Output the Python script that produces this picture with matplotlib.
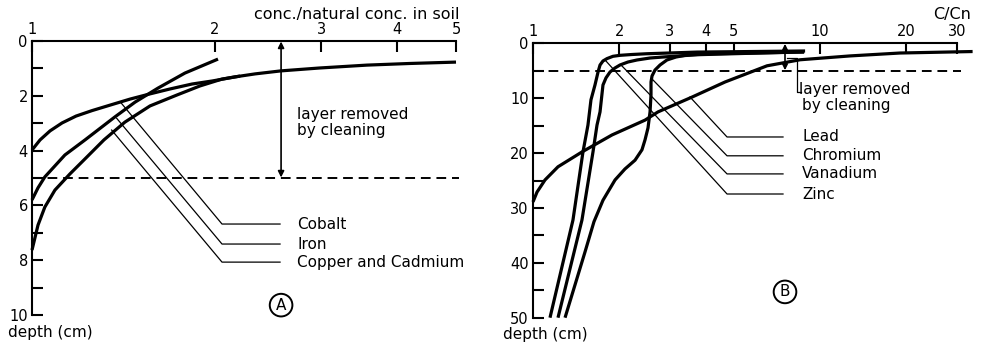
import matplotlib
matplotlib.use('Agg')
import matplotlib.pyplot as plt
from matplotlib import ticker

# A: concentration / natural concentration in soil against depth (cm)
cobalt_x = [1.0, 1.031, 1.071, 1.121, 1.182, 1.256, 1.345, 1.451, 1.565, 1.689, 1.836,
            1.981, 2.161, 2.333, 2.574, 2.98, 3.566, 4.20, 5.0]
cobalt_y = [3.98, 3.61, 3.28, 2.99, 2.74, 2.54, 2.34, 2.12, 1.93, 1.75, 1.57,
            1.46, 1.31, 1.20, 1.09, 0.985, 0.88, 0.82, 0.77]
iron_x = [1.0, 1.023, 1.05, 1.133, 1.223, 1.37, 1.479, 1.613, 1.787, 2.026]
iron_y = [5.80, 5.36, 4.96, 4.16, 3.61, 2.77, 2.23, 1.72, 1.17, 0.66]
copper_x = [1.0, 1.023, 1.05, 1.091, 1.155, 1.227, 1.314, 1.423, 1.565, 1.734, 1.892, 2.057, 2.203]
copper_y = [7.63, 6.72, 6.06, 5.44, 4.85, 4.27, 3.61, 2.96, 2.37, 1.97, 1.64, 1.39, 1.28]

# B: C/Cn against depth (cm)
lead_x = [1.0, 1.033, 1.101, 1.222, 1.481, 1.885, 2.456, 2.726, 3.581, 4.667, 6.537,
          8.52, 12.72, 19.0, 34.0]
lead_y = [28.9, 27.1, 24.9, 22.5, 19.8, 16.7, 14.0, 12.5, 9.8, 7.05, 4.1,
          3.0, 2.3, 1.77, 1.5]
zinc_x = [1.146, 1.378, 1.493, 1.554, 1.592, 1.644, 1.685, 1.712, 1.753, 1.81, 1.899,
          2.01, 2.213, 2.496, 3.73, 8.87]
zinc_y = [50, 32.2, 19.8, 14.9, 10.3, 7.6, 5.23, 3.96, 3.22, 2.79, 2.37,
          2.19, 2.04, 1.90, 1.6, 1.4]
vanadium_x = [1.222, 1.481, 1.618, 1.671, 1.712, 1.753, 1.796, 1.855, 1.930, 2.01, 2.142,
              2.303, 2.557, 2.836, 3.73, 8.8]
vanadium_y = [50, 32.2, 19.8, 14.9, 12.5, 7.6, 6.3, 5.23, 4.5, 3.95, 3.41,
              3.04, 2.68, 2.5, 2.08, 1.55]
chromium_x = [1.293, 1.401, 1.518, 1.631, 1.753, 1.931, 2.091, 2.267, 2.397, 2.456, 2.516,
              2.557, 2.577, 2.577, 2.598, 2.661, 2.771, 2.929, 3.149, 3.44, 4.24, 8.8]
chromium_y = [50, 44.0, 38.0, 32.5, 28.6, 24.9, 22.9, 21.3, 19.4, 17.6, 15.4,
              12.5, 9.4, 7.05, 5.96, 4.87, 3.95, 3.04, 2.5, 2.13, 1.9, 1.6]

a_xticks = [1, 2, 3, 4, 5]
b_xticks = [1, 2, 3, 4, 5, 10, 20, 30]
cleaning_depth = 5

plt.rcParams['font.family'] = ['DejaVu Sans']
FS = 11


def setup_axis(ax, xticks, ymax, ymajor, yminor):
    ax.set_xscale('log')
    ax.set_xlim(1, xticks[-1])
    ax.set_ylim(ymax, 0)
    ax.xaxis.tick_top()
    ax.set_xticks(xticks)
    ax.set_xticklabels([str(t) for t in xticks])
    ax.xaxis.set_minor_locator(ticker.NullLocator())
    ax.set_yticks(range(0, ymax + 1, ymajor))
    ax.set_yticks(range(yminor, ymax, ymajor), minor=True)
    ax.tick_params(which='both', direction='in', length=8, width=1.5,
                   labelsize=10.5, pad=3)
    for side in ['bottom', 'right']:
        ax.spines[side].set_visible(False)
    for side in ['top', 'left']:
        ax.spines[side].set_linewidth(1.5)
    ax.patch.set_visible(False)


def leader(ax, start, bend, end_x, label, label_x):
    ax.plot([start[0], bend[0], end_x], [start[1], bend[1], bend[1]],
            color='k', lw=0.9, clip_on=False)
    ax.text(label_x, bend[1], label, fontsize=FS, va='center', ha='left')


fig = plt.figure(figsize=(9.87, 3.51), dpi=100)
axA = fig.add_axes([32 / 987, 1 - 315 / 351, 424 / 987, 274 / 351])
axB = fig.add_axes([533 / 987, 1 - 317.7 / 351, 424 / 987, 274.4 / 351])

setup_axis(axA, a_xticks, 10, 2, 1)
setup_axis(axB, b_xticks, 50, 10, 5)

curve = dict(color='k', lw=2.3, solid_capstyle='butt', solid_joinstyle='round',
             clip_on=False)

# ---- panel A ----
axA.plot(cobalt_x, cobalt_y, **curve)
axA.plot(iron_x, iron_y, **curve)
axA.plot(copper_x, copper_y, **curve)
axA.plot([1, 5.05], [cleaning_depth, cleaning_depth], color='k', lw=1.4,
         dashes=(5, 3), clip_on=False)
axA.annotate('', xy=(2.574, 0.02), xytext=(2.574, cleaning_depth - 0.02),
             arrowprops=dict(arrowstyle='<|-|>', color='k', lw=1.2,
                             mutation_scale=9, shrinkA=0, shrinkB=0))
axA.text(2.735, 2.7, 'layer removed', fontsize=FS, va='center')
axA.text(2.735, 3.28, 'by cleaning', fontsize=FS, va='center')

leader(axA, (1.40, 2.24), (2.057, 6.68), 2.564, 'Cobalt', 2.735)
leader(axA, (1.379, 2.82), (2.057, 7.41), 2.564, 'Iron', 2.735)
leader(axA, (1.353, 3.25), (2.057, 8.07), 2.564, 'Copper and Cadmium', 2.735)

axA.text(2.574, 9.64, 'A', fontsize=FS, ha='center', va='center',
         bbox=dict(boxstyle='circle,pad=0.25', fc='none', ec='k', lw=1.4))

# ---- panel B ----
axB.plot(lead_x, lead_y, **curve)
axB.plot(zinc_x, zinc_y, **curve)
axB.plot(vanadium_x, vanadium_y, **curve)
axB.plot(chromium_x, chromium_y, **curve)
axB.plot([1, 31], [cleaning_depth, cleaning_depth], color='k', lw=1.4,
         dashes=(5, 3), clip_on=False)
axB.annotate('', xy=(7.55, 0.1), xytext=(7.55, cleaning_depth - 0.1),
             arrowprops=dict(arrowstyle='<|-|>', color='k', lw=1.2,
                             mutation_scale=8, shrinkA=0, shrinkB=0))
axB.plot([7.67, 8.32, 8.32, 8.59], [2.68, 2.68, 8.87, 8.87], color='k', lw=0.9)
axB.text(8.45, 8.5, 'layer removed', fontsize=FS, va='center')
axB.text(8.66, 11.3, 'by cleaning', fontsize=FS, va='center')

leader(axB, (3.524, 9.79), (4.742, 17.07), 7.43, 'Lead', 8.66)
leader(axB, (2.598, 6.5), (4.742, 20.5), 7.43, 'Chromium', 8.66)
leader(axB, (2.042, 4.14), (4.742, 23.8), 7.43, 'Vanadium', 8.66)
leader(axB, (1.782, 3.04), (4.742, 27.46), 7.43, 'Zinc', 8.66)

axB.text(7.55, 45.3, 'B', fontsize=FS, ha='center', va='center',
         bbox=dict(boxstyle='circle,pad=0.25', fc='none', ec='k', lw=1.4))

# axis titles
fig.text(460 / 987, 1 - 14 / 351, 'conc./natural conc. in soil', fontsize=11.5,
         ha='right', va='center')
fig.text(971 / 987, 1 - 14 / 351, 'C/Cn', fontsize=11.5, ha='right', va='center')
fig.text(8 / 987, 1 - 333 / 351, 'depth (cm)', fontsize=FS, ha='left', va='center')
fig.text(503 / 987, 1 - 335 / 351, 'depth (cm)', fontsize=FS, ha='left', va='center')

fig.savefig('out.png', dpi=100)
